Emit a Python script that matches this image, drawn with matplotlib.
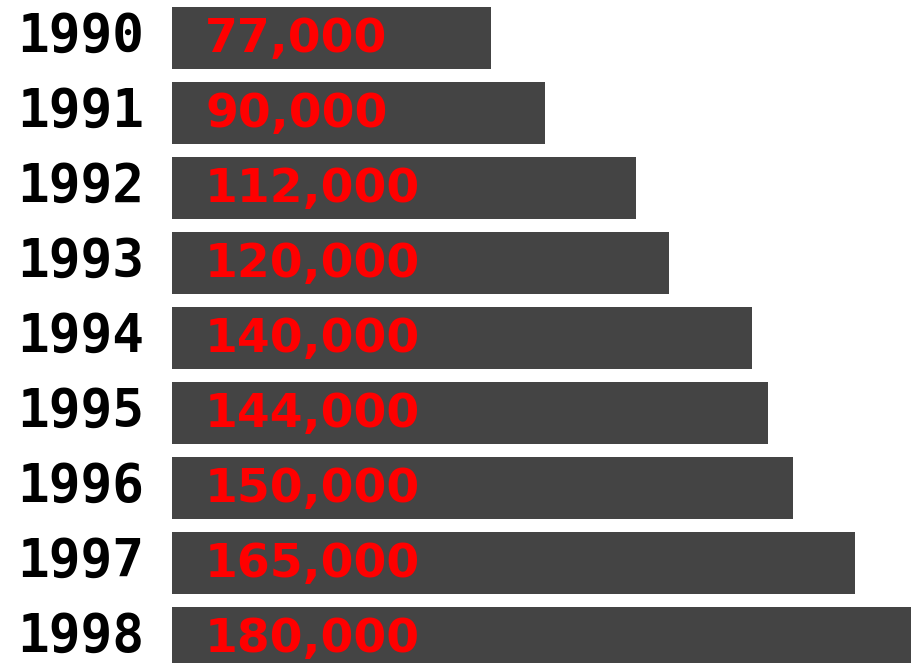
import matplotlib
matplotlib.use("Agg")
import matplotlib.pyplot as plt
from matplotlib.transforms import blended_transform_factory

years = ["1990", "1991", "1992", "1993", "1994", "1995", "1996", "1997", "1998"]
values = [77000, 90000, 112000, 120000, 140000, 144000, 150000, 165000, 180000]
value_labels = ["77,000", "90,000", "112,000", "120,000", "140,000",
                "144,000", "150,000", "165,000", "180,000"]

fig = plt.figure(figsize=(9.11, 6.63), dpi=100)
ax = fig.add_axes([172 / 911, 0, 1 - 172 / 911, 1])

pos = list(range(len(years)))
ax.barh(pos, values, height=0.83, color="#444444", edgecolor="none")

ax.set_xlim(0, 178500)
ax.set_ylim(8.333, -0.507)
ax.axis("off")

# text placed in figure x, data y
trans = blended_transform_factory(fig.transFigure, ax.transData)
for i in pos:
    ax.text(17 / 911, i + 0.18, years[i], transform=trans, ha="left", va="baseline",
            fontsize=38, fontweight="bold", family="DejaVu Sans Mono", color="black",
            clip_on=False)
    ax.text(205 / 911, i + 0.18, value_labels[i], transform=trans, ha="left", va="baseline",
            fontsize=34, fontweight="bold", family="DejaVu Sans", color="#ff0000",
            clip_on=False)

fig.savefig("out.png", dpi=100)
